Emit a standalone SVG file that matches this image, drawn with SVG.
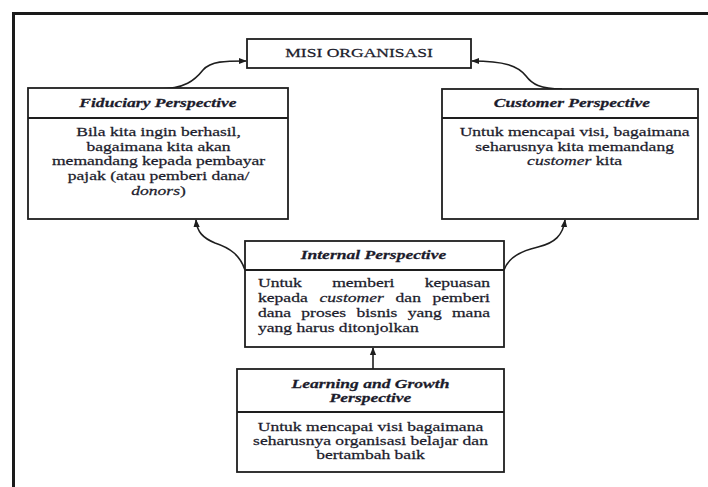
<svg xmlns="http://www.w3.org/2000/svg" width="708" height="487" viewBox="0 0 708 487">
  <style>
    .box{fill:#fff;stroke:#1e1e1e;stroke-width:1.8}
    .div{stroke:#1e1e1e;stroke-width:1.8}
    .frame{fill:none;stroke:#1a1a1a;stroke-width:3}
    .t{font-family:"Liberation Serif","Times New Roman",serif;font-size:13.5px;fill:#1c1c2c;stroke:#1c1c2c;stroke-width:0.25}
    .h{font-weight:bold;font-style:italic;text-anchor:middle}
    .c{text-anchor:middle}
    .e{text-anchor:end}
    .i{font-style:italic}
    .conn{fill:none;stroke:#1e1e1e;stroke-width:1.6}
  </style>
  <defs>
    <marker id="arrow" viewBox="0 0 10 10" refX="9" refY="5" markerWidth="8" markerHeight="8" markerUnits="userSpaceOnUse" orient="auto">
      <path d="M0,1 L10,5 L0,9 z" fill="#1e1e1e"/>
    </marker>
  </defs>

  <rect width="708" height="487" fill="#fff"/>
  <!-- outer frame, open to the right and bottom -->
  <path class="frame" d="M13.5,487 V13.5 H708"/>

  <!-- connectors -->
  <g id="connectors">
    <path class="conn" d="M158,89 C185,89 195,80 203,70 C211,61 225,61 246,61" marker-end="url(#arrow)"/>
    <path class="conn" d="M562,89 C540,89 532,84 526,76 C518,66 505,61 472,61" marker-end="url(#arrow)"/>
    <path class="conn" d="M245,270 C240,255 230,248 215,243 C203,238 197,232 196,220" marker-end="url(#arrow)"/>
    <path class="conn" d="M504,270 C508,258 520,251 538,247 C555,243 563,235 565,220" marker-end="url(#arrow)"/>
    <path class="conn" d="M373,369 V348" marker-end="url(#arrow)"/>
  </g>

  <!-- mission -->
  <g id="misi">
    <rect class="box" x="247" y="39" width="224" height="29"/>
    <g transform="scale(1.3 1)">
      <text class="t c" x="276.2" y="57.5">MISI ORGANISASI</text>
    </g>
  </g>

  <!-- fiduciary -->
  <g id="fiduciary">
    <rect class="box" x="28" y="88" width="260" height="131"/>
    <line class="div" x1="28" y1="118" x2="288" y2="118"/>
    <g transform="scale(1.3 1)">
      <text class="t h" x="121.5" y="107">Fiduciary Perspective</text>
      <text class="t c" x="122" y="136">Bila kita ingin berhasil,</text>
      <text class="t c" x="122" y="151">bagaimana kita akan</text>
      <text class="t c" x="122" y="165.5">memandang kepada pembayar</text>
      <text class="t c" x="122" y="180">pajak (atau pemberi dana/</text>
      <text class="t c" x="122" y="195"><tspan class="i">donors</tspan>)</text>
    </g>
  </g>

  <!-- customer -->
  <g id="customer">
    <rect class="box" x="442" y="89" width="256" height="130"/>
    <line class="div" x1="442" y1="118" x2="698" y2="118"/>
    <g transform="scale(1.3 1)">
      <text class="t h" x="440" y="107.5">Customer Perspective</text>
      <text class="t c" x="442" y="136">Untuk mencapai visi, bagaimana</text>
      <text class="t c" x="442" y="151">seharusnya kita memandang</text>
      <text class="t c" x="442" y="165.5"><tspan class="i">customer</tspan> kita</text>
    </g>
  </g>

  <!-- internal -->
  <g id="internal">
    <rect class="box" x="245" y="241" width="259" height="106"/>
    <line class="div" x1="245" y1="270" x2="504" y2="270"/>
    <g transform="scale(1.3 1)">
      <text class="t h" x="287.3" y="259.5">Internal Perspective</text>
      <text class="t" y="287"><tspan x="198.5">Untuk</tspan><tspan x="255.5">memberi</tspan><tspan x="376.9" class="e">kepuasan</tspan></text>
      <text class="t" y="302"><tspan x="198.5">kepada</tspan><tspan x="245.8" class="i">customer</tspan><tspan x="304.3">dan</tspan><tspan x="376.9" class="e">pemberi</tspan></text>
      <text class="t" y="317"><tspan x="198.5">dana</tspan><tspan x="231.8">proses</tspan><tspan x="274.2">bisnis</tspan><tspan x="313.6">yang</tspan><tspan x="376.9" class="e">mana</tspan></text>
      <text class="t" x="198.5" y="332">yang harus ditonjolkan</text>
    </g>
  </g>

  <!-- learning and growth -->
  <g id="learning">
    <rect class="box" x="237" y="369" width="267" height="103"/>
    <line class="div" x1="237" y1="412" x2="504" y2="412"/>
    <g transform="scale(1.3 1)">
      <text class="t h" x="285" y="388">Learning and Growth</text>
      <text class="t h" x="285" y="402.5">Perspective</text>
      <text class="t c" x="285" y="431">Untuk mencapai visi bagaimana</text>
      <text class="t c" x="285" y="445">seharusnya organisasi belajar dan</text>
      <text class="t c" x="285" y="459">bertambah baik</text>
    </g>
  </g>
</svg>
